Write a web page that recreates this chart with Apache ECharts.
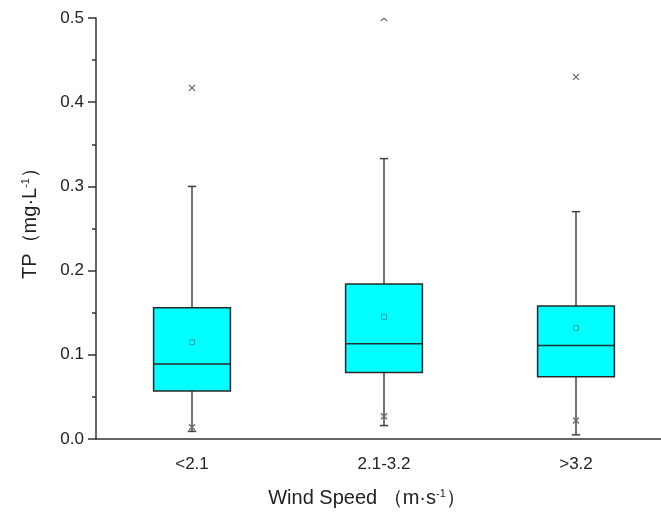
<!DOCTYPE html>
<html>
<head>
<meta charset="utf-8">
<script src="https://cdn.jsdelivr.net/npm/echarts@6/dist/echarts.min.js"></script>
<style>html,body{margin:0;padding:0;background:#fff;overflow:hidden;width:661px;height:517px;}#c{width:672px;height:517px;}</style>
</head>
<body>
<div id="c"></div>
<script>
const categories = ['<2.1', '2.1-3.2', '>3.2'];
const whiskerLow = [0.009, 0.016, 0.005];
const q1Vals = [0.057, 0.079, 0.074];
const medianVals = [0.089, 0.113, 0.111];
const q3Vals = [0.156, 0.184, 0.158];
const whiskerHigh = [0.300, 0.333, 0.270];
const meanVals = [0.115, 0.145, 0.132];
const lowMarks = [0.014, 0.027, 0.022];
const highMarks = [0.417, 0.500, 0.430];
const yTicks = [0, 0.1, 0.2, 0.3, 0.4, 0.5];

const boxData = categories.map((c, i) => [i, whiskerLow[i], q1Vals[i], medianVals[i], q3Vals[i], whiskerHigh[i]]);
const meanData = categories.map((c, i) => [i, meanVals[i]]);
const markData = categories.map((c, i) => [i, lowMarks[i]]).concat(categories.map((c, i) => [i, highMarks[i]]));

const lineColor = '#2a2a2a';
const font = '"Liberation Sans", Arial, sans-serif';

function renderBox(params, api) {
  const i = api.value(0);
  const band = api.size([1, 0])[0];
  const hw = band * 0.2;
  const cw = band * 0.022;
  const pLo = api.coord([i, api.value(1)]);
  const pQ1 = api.coord([i, api.value(2)]);
  const pMed = api.coord([i, api.value(3)]);
  const pQ3 = api.coord([i, api.value(4)]);
  const pHi = api.coord([i, api.value(5)]);
  const x = pMed[0];
  const ls = { stroke: '#444', lineWidth: 1.5 };
  const bs = { stroke: lineColor, lineWidth: 1.5 };
  return {
    type: 'group',
    children: [
      { type: 'line', shape: { x1: x, y1: pLo[1], x2: x, y2: pQ1[1] }, style: ls },
      { type: 'line', shape: { x1: x, y1: pQ3[1], x2: x, y2: pHi[1] }, style: ls },
      { type: 'line', shape: { x1: x - cw, y1: pLo[1], x2: x + cw, y2: pLo[1] }, style: ls },
      { type: 'line', shape: { x1: x - cw, y1: pHi[1], x2: x + cw, y2: pHi[1] }, style: ls },
      { type: 'rect', shape: { x: x - hw, y: pQ3[1], width: hw * 2, height: pQ1[1] - pQ3[1] }, style: { fill: '#00ffff', stroke: lineColor, lineWidth: 1.5 } },
      { type: 'line', shape: { x1: x - hw, y1: pMed[1], x2: x + hw, y2: pMed[1] }, style: bs }
    ]
  };
}

function renderCross(params, api) {
  const p = api.coord([api.value(0), api.value(1)]);
  const s = 3;
  const st = { stroke: '#666', lineWidth: 1.2 };
  return {
    type: 'group',
    children: [
      { type: 'line', shape: { x1: p[0] - s, y1: p[1] - s, x2: p[0] + s, y2: p[1] + s }, style: st },
      { type: 'line', shape: { x1: p[0] - s, y1: p[1] + s, x2: p[0] + s, y2: p[1] - s }, style: st }
    ]
  };
}

const supStyle = { fontSize: 11, verticalAlign: 'top', padding: [0, 0, 9, 0], color: '#222', fontFamily: font };

const chart = echarts.init(document.getElementById('c'), null, { renderer: 'canvas' });
chart.setOption({
  backgroundColor: '#fff',
  animation: false,
  grid: { left: 96, right: 0, top: 18, bottom: 78 },
  xAxis: {
    type: 'category',
    data: categories,
    boundaryGap: true,
    axisLine: { lineStyle: { color: '#333', width: 1.5 } },
    axisTick: { alignWithLabel: true, length: 7, lineStyle: { color: '#333', width: 1.5 } },
    axisLabel: { color: '#222', fontSize: 17, fontFamily: font, margin: 17 },
    name: 'Wind Speed （m·s{sup|-1}）',
    nameLocation: 'middle',
    nameGap: 49,
    nameTextStyle: {
      color: '#222', fontSize: 20, fontFamily: font, padding: [0, 34, 0, 0],
      rich: { sup: supStyle }
    }
  },
  yAxis: {
    type: 'value',
    min: 0, max: 0.5, interval: 0.1,
    axisLine: { show: true, lineStyle: { color: '#333', width: 1.5 } },
    axisTick: { show: true, length: 8, lineStyle: { color: '#333', width: 1.5 } },
    minorTick: { show: true, splitNumber: 2, length: 4, lineStyle: { color: '#333', width: 1.5 } },
    splitLine: { show: false },
    axisLabel: { color: '#222', fontSize: 17, fontFamily: font, margin: 12, formatter: v => v.toFixed(1) },
    name: 'TP（mg·L{sup|-1}）',
    nameLocation: 'middle',
    nameGap: 56,
    nameTextStyle: {
      color: '#222', fontSize: 20, fontFamily: font, padding: [0, 0, 0, 20],
      rich: { sup: supStyle }
    }
  },
  series: [
    {
      type: 'custom',
      renderItem: renderBox,
      data: boxData,
      encode: { x: 0, y: [1, 2, 3, 4, 5] },
      clip: false,
      z: 2
    },
    {
      type: 'scatter',
      data: meanData,
      symbol: 'rect',
      symbolSize: 5,
      itemStyle: { color: 'rgba(0,0,0,0)', borderColor: '#2e8f8f', borderWidth: 1 },
      z: 3
    },
    {
      type: 'custom',
      renderItem: renderCross,
      data: markData,
      encode: { x: 0, y: 1 },
      clip: true,
      z: 4
    }
  ]
});
</script>
</body>
</html>
